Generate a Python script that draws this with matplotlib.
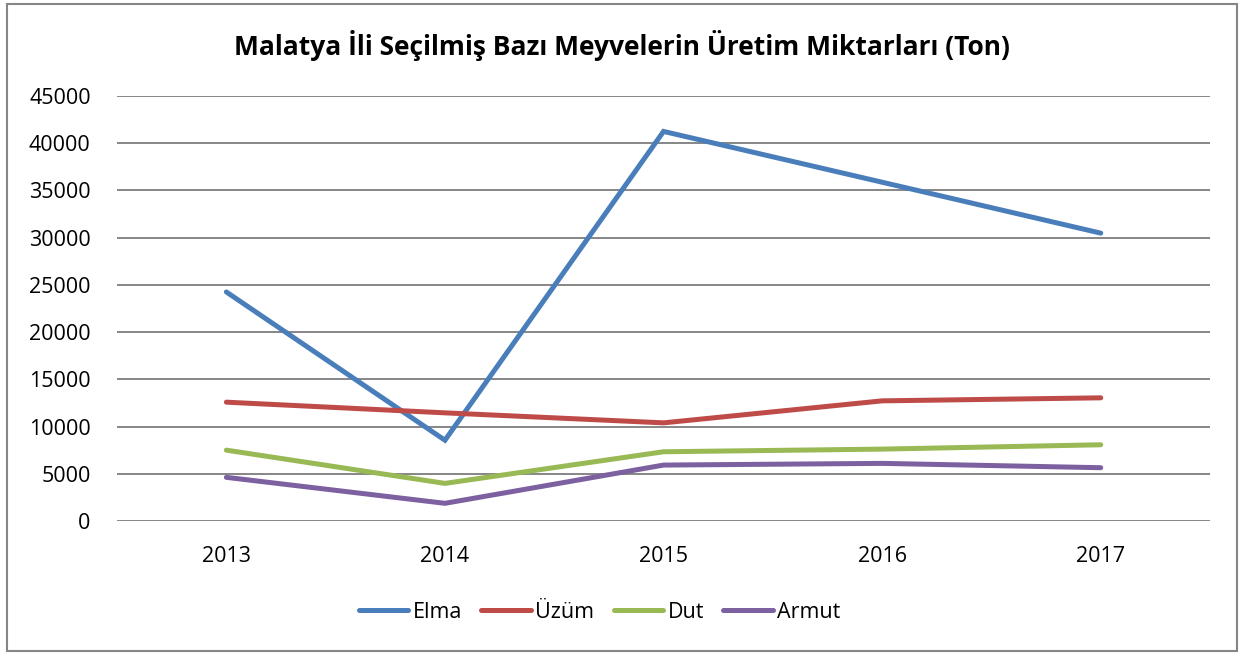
import matplotlib
matplotlib.use('Agg')
from matplotlib import pyplot as plt
from matplotlib.patches import Rectangle

plt.rcParams['font.family'] = ['Open Sans', 'DejaVu Sans']

years = ['2013', '2014', '2015', '2016', '2017']
elma = [24250, 8550, 41250, 35870, 30480]
uzum = [12580, 11450, 10390, 12720, 13040]
dut = [7500, 3980, 7330, 7610, 8070]
armut = [4620, 1870, 5920, 6100, 5640]

series = [('Elma', elma, '#4A7EBB'),
          ('Üzüm', uzum, '#BE4B48'),
          ('Dut', dut, '#98B954'),
          ('Armut', armut, '#7D60A0')]

fig = plt.figure(figsize=(12.44, 6.54), dpi=100)
ax = fig.add_axes([0.0941, 0.2034, 0.8786, 0.6498])

x = range(len(years))
for name, vals, col in series:
    ax.plot(x, vals, color=col, lw=3.6, label=name, solid_capstyle='round',
            solid_joinstyle='miter', zorder=3)

ax.set_xlim(-0.5, 4.5)
ax.set_ylim(0, 45000)
ax.set_yticks(range(0, 45001, 5000))
ax.set_xticks(list(x))
ax.set_xticklabels(years)
ax.grid(axis='y', color='#868686', lw=1.4)
ax.set_axisbelow(True)
for s in ax.spines.values():
    s.set_visible(False)
ax.tick_params(length=0, labelsize=15.5, pad=0)
ax.tick_params(axis='y', pad=19)
ax.tick_params(axis='x', pad=18)

fig.text(0.5, 0.931, 'Malatya İli Seçilmiş Bazı Meyvelerin Üretim Miktarları (Ton)',
         ha='center', va='center', fontsize=19, fontweight='bold')

ax.legend(loc='center', bbox_to_anchor=(0.482, 0.064), bbox_transform=fig.transFigure,
          ncol=4, frameon=False, fontsize=15.5, handlelength=2.3, handletextpad=0.2,
          columnspacing=0.9)

fig.patches.append(Rectangle((0.006, 0.004), 0.988, 0.99, transform=fig.transFigure,
                             fill=False, edgecolor='#868686', lw=1.5))

fig.savefig('out.png', dpi=100)
